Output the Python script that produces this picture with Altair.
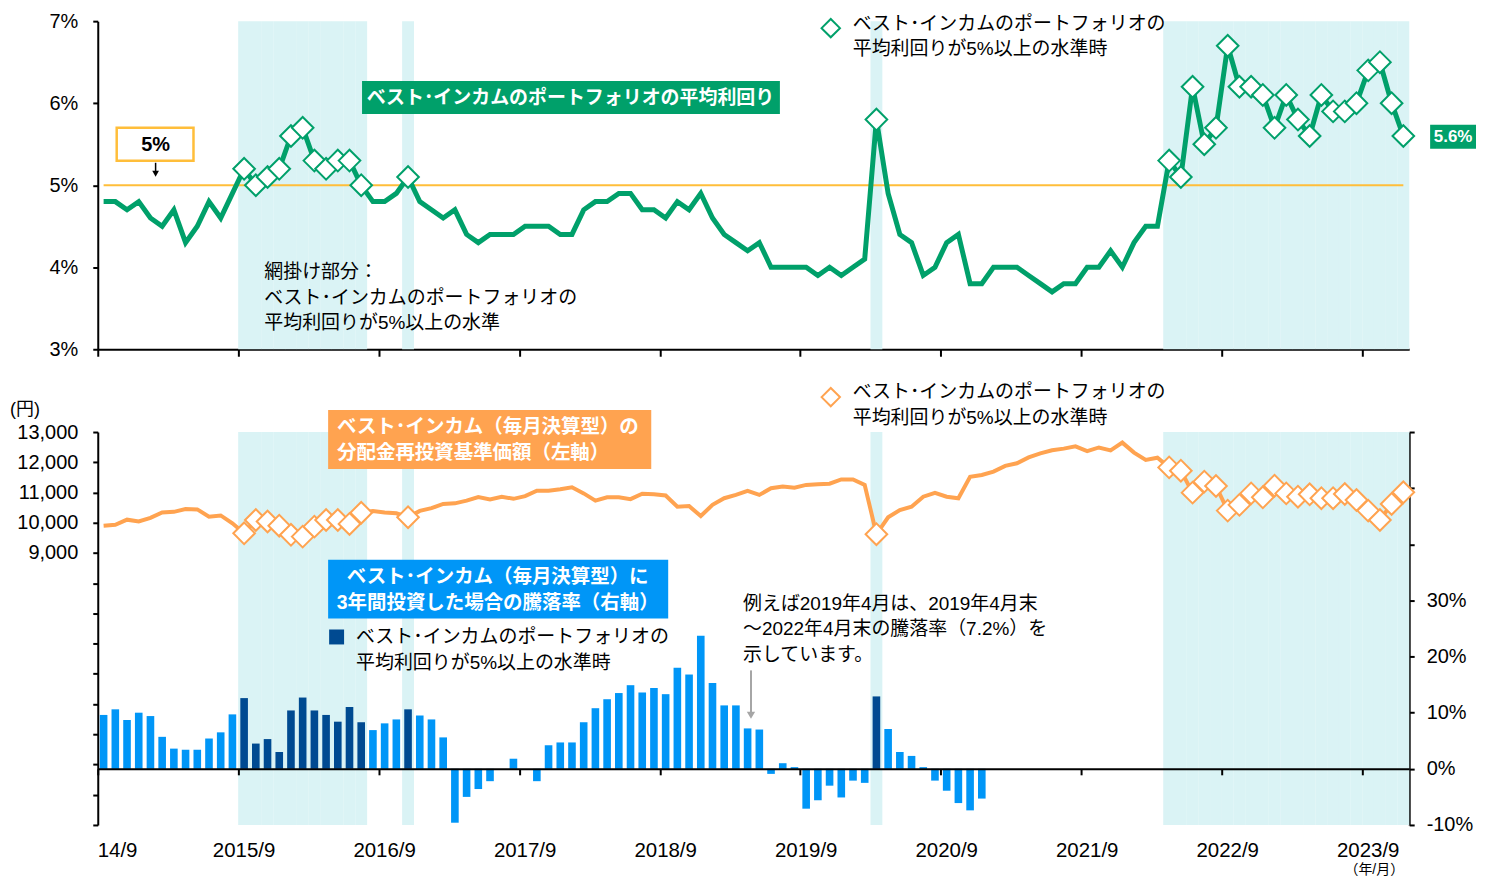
import altair as alt
import pandas as pd

# ---------------- data ----------------
months = []
yr, mo = 2014, 9
for _ in range(112):
    months.append(f"{yr}/{mo}")
    mo += 1
    if mo > 12:
        mo, yr = 1, yr + 1

sept_ticks = [m for m in months if m.endswith("/9")]

yield_pct = [4.8, 4.8, 4.7, 4.8, 4.6, 4.5, 4.7, 4.3, 4.5, 4.8, 4.6, 4.9,
             5.2, 5.0, 5.1, 5.2, 5.6, 5.7, 5.3, 5.2, 5.3, 5.3, 5.0, 4.8,
             4.8, 4.9, 5.1, 4.8, 4.7, 4.6, 4.7, 4.4, 4.3, 4.4, 4.4, 4.4,
             4.5, 4.5, 4.5, 4.4, 4.4, 4.7, 4.8, 4.8, 4.9, 4.9, 4.7, 4.7,
             4.6, 4.8, 4.7, 4.9, 4.6, 4.4, 4.3, 4.2, 4.3, 4.0, 4.0, 4.0,
             4.0, 3.9, 4.0, 3.9, 4.0, 4.1, 5.8, 4.9, 4.4, 4.3, 3.9, 4.0,
             4.3, 4.4, 3.8, 3.8, 4.0, 4.0, 4.0, 3.9, 3.8, 3.7, 3.8, 3.8,
             4.0, 4.0, 4.2, 4.0, 4.3, 4.5, 4.5, 5.3, 5.1, 6.2, 5.5, 5.7,
             6.7, 6.2, 6.2, 6.1, 5.7, 6.1, 5.8, 5.6, 6.1, 5.9, 5.9, 6.0,
             6.4, 6.5, 6.0, 5.6]

nav_yen = [9900, 9930, 10100, 10040, 10160, 10340, 10360, 10450, 10440, 10200, 10240, 9980,
           9650, 10090, 10040, 9900, 9600, 9540, 9870, 10090, 10090, 9960, 10330, 10390,
           10340, 10310, 10180, 10390, 10480, 10620, 10640, 10730, 10850, 10770, 10860, 10790,
           10880, 11060, 11060, 11110, 11170, 10970, 10730, 10840, 10840, 10780, 10960, 10940,
           10900, 10530, 10550, 10220, 10590, 10810, 10920, 11050, 10920, 11140, 11200, 11160,
           11250, 11270, 11290, 11430, 11430, 11250, 9620, 10180, 10420, 10530, 10860, 10990,
           10860, 10810, 11520, 11580, 11690, 11880, 11965, 12160, 12295, 12395, 12450, 12525,
           12370, 12490, 12395, 12650, 12320, 12075, 12150, 11830, 11720, 10995, 11360, 11215,
           10400, 10590, 10970, 10840, 11225, 10970, 10860, 10940, 10810, 10810, 10950, 10750,
           10400, 10090, 10620, 11005]

ret_3y = [9.6, 10.6, 8.7, 10.0, 9.4, 5.7, 3.6, 3.4, 3.4, 5.4, 6.5, 9.7,
          12.6, 4.5, 5.3, 3.0, 10.4, 12.7, 10.4, 9.6, 8.4, 11.0, 8.3, 6.9,
          8.1, 8.8, 10.6, 9.5, 8.8, 5.6, -9.6, -5.0, -3.6, -2.2, 0.0, 1.8,
          0.0, -2.2, 4.2, 4.7, 4.7, 8.3, 10.8, 12.4, 13.5, 14.9, 13.6, 14.4,
          13.3, 18.0, 16.8, 23.7, 15.3, 11.3, 11.3, 7.2, 7.0, -0.9, 1.0, 0.3,
          -7.1, -5.6, -3.0, -5.1, -2.1, -2.5, 12.9, 7.1, 3.0, 2.3, 0.3, -2.1,
          -3.9, -6.1, -7.4, -5.3]

df = pd.DataFrame({
    "m": months,
    "yld": yield_pct,
    "nav": nav_yen,
    "ret": ret_3y + [None] * (len(months) - len(ret_3y)),
})
df["flag"] = (df["yld"] >= 5).astype(int)

# ---------------- style ----------------
GREEN = "#00A06A"
AMBER = "#FFBE3A"
ORANGE = "#FFA350"
BLUE = "#0096F7"
NAVY = "#004A91"
SHADE = "#DAF3F5"
GRAY = "#A6A6A6"
JP = "Liberation Sans, Noto Sans CJK JP"
LAT = "Liberation Sans"

W, H1, H2 = 1315, 329, 394
OX, OY1, OY2 = 96, 20, 432
STEP = W / len(months)
TS = 19


def xenc(axis=None):
    return alt.X("m:N", sort=months, title=None,
                 scale=alt.Scale(paddingInner=0.35, paddingOuter=0.175),
                 axis=axis)


def one():
    return alt.Chart(pd.DataFrame({"k": [0]}))


def text(px, py, s, oy, size=TS, bold=False, color="black", align="left", font=JP):
    return one().mark_text(text=s, align=align, baseline="middle", fontSize=size,
                           fontWeight="bold" if bold else "normal",
                           color=color, font=font).encode(
        x=alt.value(px - OX), y=alt.value(py - oy))


def rect(x1, y1, x2, y2, oy, fill, stroke=None, sw=0):
    kw = dict(fill=fill)
    if stroke:
        kw.update(stroke=stroke, strokeWidth=sw)
    return one().mark_rect(**kw).encode(
        x=alt.value(x1 - OX), x2=alt.value(x2 - OX),
        y=alt.value(y1 - oy), y2=alt.value(y2 - oy))


def vline(px, y1, y2, oy, color, sw):
    return one().mark_rule(color=color, strokeWidth=sw).encode(
        x=alt.value(px - OX), y=alt.value(y1 - oy), y2=alt.value(y2 - oy))


def pt(px, py, oy, shape, size, fill, stroke=None, sw=0):
    kw = dict(shape=shape, size=size, filled=True, fill=fill, opacity=1)
    if stroke:
        kw.update(stroke=stroke, strokeWidth=sw)
    return one().mark_point(**kw).encode(x=alt.value(px - OX), y=alt.value(py - oy))


# ---------------- top panel ----------------
yscale_top = alt.Scale(domain=[3, 7], nice=False)
top_y_axis = alt.Axis(values=[3, 4, 5, 6, 7], labelExpr="datum.value + '%'",
                      tickSize=5, labelPadding=15, title=None, labelOverlap=False)
top_x_axis = alt.Axis(orient="bottom", values=sept_ticks, labels=False, tickSize=7,
                      tickOffset=-STEP / 2, title=None)

shade_top = alt.Chart(df).transform_filter("datum.flag == 1").mark_bar(
    color=SHADE, width={"band": 1.56}).encode(
    x=xenc(top_x_axis), y=alt.value(0), y2=alt.value(H1))

five_line = alt.Chart(df).transform_calculate(t="5").mark_line(
    color=AMBER, strokeWidth=2).encode(
    x=xenc(top_x_axis), y=alt.Y("t:Q", scale=yscale_top, axis=top_y_axis))

green_line = alt.Chart(df).mark_line(color=GREEN, strokeWidth=5).encode(
    x=xenc(top_x_axis), y=alt.Y("yld:Q", scale=yscale_top, axis=top_y_axis))

green_pts = alt.Chart(df).transform_filter("datum.flag == 1").mark_point(
    shape="diamond", filled=True, fill="white", stroke=GREEN, strokeWidth=2,
    size=470, opacity=1).encode(
    x=xenc(top_x_axis), y=alt.Y("yld:Q", scale=yscale_top, axis=top_y_axis))

top_ann = [
    rect(361, 80, 780, 113, OY1, GREEN),
    text(570, 97, "ベスト･インカムのポートフォリオの平均利回り", OY1, size=19,
         bold=True, color="white", align="center"),
    rect(115, 127, 192, 160, OY1, "white", AMBER, 2.5),
    text(154, 144, "5%", OY1, size=20, bold=True, align="center", font=LAT),
    vline(154, 162, 172, OY1, "black", 1.5),
    pt(154, 173, OY1, "triangle-down", 45, "black"),
    pt(831, 27, OY1, "diamond", 340, "white", GREEN, 2),
    text(853, 23, "ベスト･インカムのポートフォリオの", OY1),
    text(853, 48, "平均利回りが5%以上の水準時", OY1),
    text(263, 272, "網掛け部分：", OY1),
    text(263, 298, "ベスト･インカムのポートフォリオの", OY1),
    text(263, 323, "平均利回りが5%以上の水準", OY1),
    rect(1432, 124, 1478, 148, OY1, GREEN),
    text(1455, 136, "5.6%", OY1, size=17, bold=True, color="white",
         align="center", font=LAT),
]

top = alt.layer(shade_top, five_line, green_line, green_pts, *top_ann).properties(
    width=W, height=H1)

# ---------------- bottom panel ----------------
yscale_nav = alt.Scale(domain=[0, 13000], nice=False)
yscale_ret = alt.Scale(domain=[-10, 60], nice=False)

left_axis = alt.Axis(orient="left", values=list(range(0, 13001, 1000)),
                     labelExpr="datum.value >= 9000 ? format(datum.value, ',') : ''",
                     tickSize=5, labelPadding=15, title=None, labelOverlap=False)
right_axis = alt.Axis(orient="right", values=list(range(-10, 61, 10)),
                      labelExpr="datum.value <= 30 ? datum.value + '%' : ''",
                      tickSize=5, labelPadding=12, title=None, labelOverlap=False)
zero_axis = alt.Axis(orient="bottom", values=sept_ticks, labels=False, tickSize=6,
                     tickOffset=-STEP / 2, offset=-H2 * 10 / 70, title=None, zindex=1)
label_axis = alt.Axis(orient="bottom", values=sept_ticks, ticks=False, domain=False,
                      labelAngle=0, labelPadding=16, labelFontSize=20.5, title=None,
                      labelExpr="datum.value == '2014/9' ? '14/9' : datum.value",
                      labelOffset={"condition": {"test": "datum.value == '2014/9'",
                                                 "value": 14}, "value": 0})

shade_bot = alt.Chart(df).transform_filter("datum.flag == 1").mark_bar(
    color=SHADE, width={"band": 1.56}).encode(
    x=xenc(None), y=alt.value(0), y2=alt.value(H2))

bars = alt.Chart(df).transform_filter("isValid(datum.ret)").mark_bar().encode(
    x=xenc(zero_axis),
    y=alt.Y("ret:Q", scale=yscale_ret, axis=right_axis),
    color=alt.condition(alt.datum.flag == 1, alt.value(NAVY), alt.value(BLUE)))

nav_line = alt.Chart(df).mark_line(color=ORANGE, strokeWidth=4).encode(
    x=xenc(label_axis), y=alt.Y("nav:Q", scale=yscale_nav, axis=left_axis))

nav_pts = alt.Chart(df).transform_filter("datum.flag == 1").mark_point(
    shape="diamond", filled=True, fill="white", stroke=ORANGE, strokeWidth=2,
    size=470, opacity=1).encode(
    x=xenc(None), y=alt.Y("nav:Q", scale=yscale_nav, axis=None))

bot_ann = [
    text(8, 410, "(円)", OY2, size=18),
    rect(327, 410, 651, 469, OY2, ORANGE),
    text(336, 427, "ベスト･インカム（毎月決算型）の", OY2, size=19.5, bold=True, color="white"),
    text(336, 453, "分配金再投資基準価額（左軸）", OY2, size=19.5, bold=True, color="white"),
    pt(831, 397, OY2, "diamond", 340, "white", ORANGE, 2),
    text(853, 392, "ベスト･インカムのポートフォリオの", OY2),
    text(853, 418, "平均利回りが5%以上の水準時", OY2),
    rect(327, 560, 668, 619, OY2, BLUE),
    text(497, 577, "ベスト･インカム（毎月決算型）に", OY2, size=19.5, bold=True,
         color="white", align="center"),
    text(497, 603, "3年間投資した場合の騰落率（右軸）", OY2, size=19.5, bold=True,
         color="white", align="center"),
    rect(328, 630, 343, 645, OY2, NAVY),
    text(355, 638, "ベスト･インカムのポートフォリオの", OY2),
    text(355, 664, "平均利回りが5%以上の水準時", OY2),
    text(743, 604, "例えば2019年4月は、2019年4月末", OY2),
    text(743, 630, "～2022年4月末の騰落率（7.2%）を", OY2),
    text(743, 656, "示しています。", OY2),
    vline(751, 671, 714, OY2, GRAY, 2),
    pt(751, 716, OY2, "triangle-down", 70, GRAY),
    text(1376, 871, "（年/月）", OY2, size=14, align="center"),
]

bottom = alt.layer(shade_bot, bars, nav_line, nav_pts, *bot_ann).resolve_scale(
    y="independent").resolve_axis(x="independent", y="independent").properties(
    width=W, height=H2)

chart = alt.vconcat(top, bottom, spacing=83, bounds="flush").configure_view(
    stroke=None).configure_axis(
    domainColor="black", tickColor="black", labelColor="black",
    labelFont=LAT, labelFontSize=20, domainWidth=2, tickWidth=2, grid=False
).properties(padding={"left": 2, "top": 2, "right": 2, "bottom": 0})

chart.save("out.html", embed_options={"renderer": "svg", "actions": False})
